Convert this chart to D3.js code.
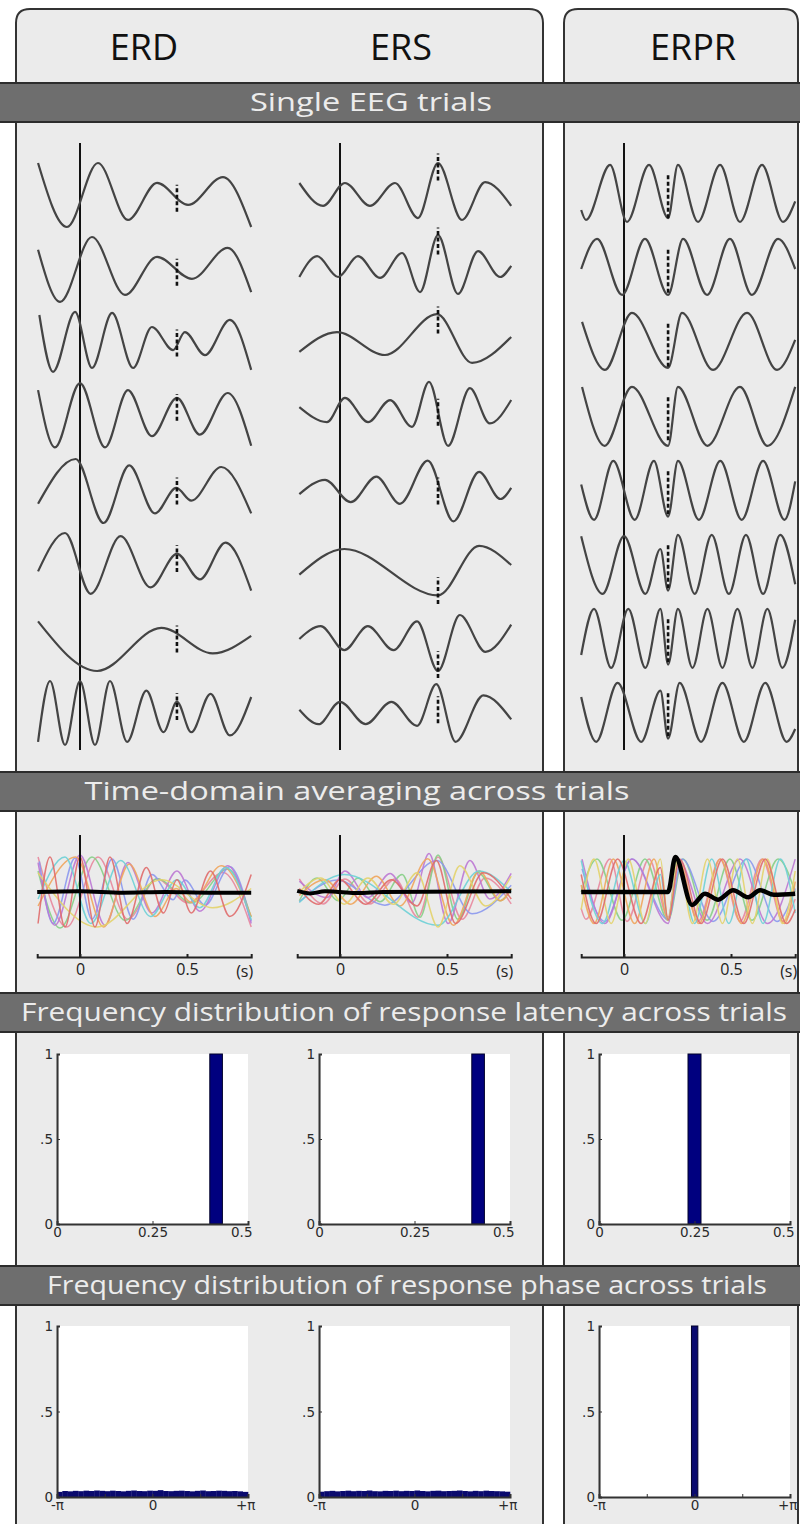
<!DOCTYPE html>
<html lang="en">
<head>
<meta charset="UTF-8" />
<title>ERD / ERS / ERPR</title>
<script src="https://d3js.org/d3.v7.min.js"></script>
<style>
  body { margin: 0; background: #fff; }
  svg { display: block; }
</style>
</head>
<body>
<div id="chart"></div>
<script>
// ---- data ----
const columns = ["ERD", "ERS", "ERPR"];
const sectionTitles = [
  "Single EEG trials",
  "Time-domain averaging across trials",
  "Frequency distribution of response latency across trials",
  "Frequency distribution of response phase across trials",
];

// single trials: [time (s), amplitude] at the peaks / troughs of each trace
const erdTrials = [
  [[-0.196,1.0],[-0.061,-1.0],[0.084,1.0],[0.224,-0.78],[0.36,0.38],[0.505,-0.31],[0.668,0.56],[0.8,-1.0]],
  [[-0.196,0.6],[-0.093,-1.03],[0.056,1.0],[0.21,-0.81],[0.36,0.38],[0.523,-0.31],[0.69,0.66],[0.8,-0.72]],
  [[-0.19,0.875],[-0.126,-0.9],[-0.023,0.97],[0.056,-0.78],[0.15,0.94],[0.248,-0.78],[0.336,0.5],[0.435,-0.22],[0.49,0.34],[0.584,-0.38],[0.7,0.72],[0.8,-0.84]],
  [[-0.196,0.84],[-0.117,-0.95],[0.0,1.06],[0.117,-0.95],[0.224,0.84],[0.336,-0.6],[0.453,0.6],[0.56,-0.55],[0.69,0.75],[0.8,-0.9]],
  [[-0.196,-0.4],[-0.02,1.0],[0.11,-1.0],[0.23,0.8],[0.35,-0.7],[0.45,0.1],[0.52,-0.3],[0.66,0.75],[0.8,-0.7]],
  [[-0.196,-0.2],[-0.07,1.0],[0.05,-0.9],[0.19,0.9],[0.33,-0.7],[0.453,0.35],[0.56,-0.45],[0.68,0.7],[0.8,-0.8]],
  [[-0.196,0.55],[0.08,-1.0],[0.38,0.35],[0.62,-0.45],[0.8,0.1]],
  [[-0.196,-0.9],[-0.14,1.0],[-0.07,-1.0],[0.0,1.0],[0.07,-1.0],[0.14,1.0],[0.22,-0.9],[0.31,0.7],[0.39,-0.6],[0.453,0.35],[0.52,-0.6],[0.61,0.6],[0.7,-0.7],[0.8,0.5]],
];
const ersTrials = [
  [[-0.19,0.375],[-0.079,-0.34],[0.023,0.375],[0.14,-0.34],[0.257,0.375],[0.364,-0.72],[0.458,1.0],[0.57,-0.78],[0.678,0.4],[0.8,-0.34]],
  [[-0.19,-0.25],[-0.107,0.4],[-0.009,-0.25],[0.084,0.4],[0.187,-0.28],[0.29,0.5],[0.374,-0.72],[0.458,1.06],[0.551,-0.78],[0.645,0.56],[0.748,-0.25],[0.8,0.1]],
  [[-0.19,-0.28],[-0.014,0.34],[0.21,-0.375],[0.453,0.9],[0.617,-0.62],[0.8,0.19]],
  [[-0.19,0.31],[-0.061,-0.16],[0.023,0.6],[0.131,-0.16],[0.234,0.53],[0.336,-0.31],[0.416,1.1],[0.505,-0.9],[0.607,0.9],[0.7,-0.2],[0.8,0.53]],
  [[-0.19,-0.1],[-0.07,0.35],[0.05,-0.35],[0.17,0.45],[0.28,-0.4],[0.41,0.95],[0.53,-0.95],[0.65,0.6],[0.75,-0.25],[0.8,0.1]],
  [[-0.19,-0.3],[0.02,0.5],[0.458,-0.95],[0.65,0.6],[0.8,0.0]],
  [[-0.19,0.0],[-0.09,0.4],[0.02,-0.35],[0.13,0.4],[0.25,-0.35],[0.36,0.55],[0.458,-1.0],[0.56,0.75],[0.68,-0.4],[0.8,0.45]],
  [[-0.19,0.1],[-0.1,-0.35],[0.0,0.35],[0.12,-0.35],[0.24,0.35],[0.36,-0.4],[0.45,0.9],[0.54,-0.9],[0.67,0.55],[0.8,-0.2]],
];
const erprTrials = [
  [[-0.2,-0.47],[-0.178,-0.78],[-0.065,0.94],[0.014,-0.84],[0.117,0.94],[0.206,-0.72],[0.252,0.94],[0.346,-0.84],[0.449,0.94],[0.542,-0.84],[0.645,0.94],[0.743,-0.84],[0.8,-0.2]],
  [[-0.2,0.0],[-0.126,0.94],[-0.009,-0.81],[0.098,0.94],[0.206,-0.81],[0.276,0.94],[0.388,-0.81],[0.495,0.94],[0.598,-0.81],[0.72,0.94],[0.8,0.0]],
  [[-0.196,0.66],[-0.089,-0.84],[0.037,0.94],[0.206,-0.78],[0.271,0.94],[0.416,-0.84],[0.575,0.94],[0.715,-0.84],[0.8,0.1]],
  [[-0.196,0.94],[-0.09,-0.9],[0.037,0.94],[0.206,-0.9],[0.252,0.94],[0.39,-0.9],[0.542,0.94],[0.67,-0.9],[0.8,0.94]],
  [[-0.2,0.2],[-0.14,-0.9],[-0.05,0.94],[0.05,-0.9],[0.14,0.94],[0.206,-0.8],[0.252,0.94],[0.35,-0.9],[0.45,0.94],[0.55,-0.9],[0.65,0.94],[0.75,-0.9],[0.8,0.3]],
  [[-0.2,0.9],[-0.1,-0.9],[0.0,0.9],[0.1,-0.9],[0.17,0.5],[0.206,-0.8],[0.252,0.94],[0.33,-0.9],[0.41,0.94],[0.49,-0.9],[0.57,0.94],[0.65,-0.9],[0.73,0.94],[0.8,-0.6]],
  [[-0.2,-0.5],[-0.14,0.94],[-0.06,-0.9],[0.02,0.94],[0.1,-0.9],[0.17,0.94],[0.206,-0.8],[0.252,0.94],[0.32,-0.9],[0.39,0.94],[0.46,-0.9],[0.53,0.94],[0.6,-0.9],[0.67,0.94],[0.74,-0.9],[0.8,0.6]],
  [[-0.2,0.5],[-0.13,-0.9],[-0.03,0.94],[0.08,-0.9],[0.17,0.7],[0.206,-0.8],[0.26,0.94],[0.36,-0.9],[0.46,0.94],[0.56,-0.9],[0.66,0.94],[0.76,-0.9],[0.8,-0.5]],
];

// response marker (dashed) time and its centre amplitude per trial
const markerTime = [0.453, 0.458, 0.206];
const erdMarkers = [-0.1, -0.1, 0.0, 0.3, 0.0, 0.2, 0.0, 0.2];
const ersMarkers = [0.875, 0.875, 0.72, 0.15, 0.0, -0.8, -0.8, 0.1];
const erprMarkers = [-0.05, -0.06, -0.06, -0.05, -0.05, -0.05, -0.05, -0.05];

// across-trial average (thick black line)
const erdMean = [[-0.2,0.0],[0.0,0.02],[0.2,-0.02],[0.4,0.0],[0.6,-0.02],[0.8,-0.02]];
const ersMean = [[-0.2,0.03],[-0.14,-0.04],[-0.07,0.02],[0.0,0.0],[0.08,-0.03],[0.2,0.0],[0.8,0.02]];
const erpMean = [[-0.2,0.0],[0.206,0.0],[0.24,1.0],[0.318,-0.37],[0.378,-0.05],[0.44,-0.22],[0.51,0.05],[0.58,-0.15],[0.636,0.05],[0.7,-0.08],[0.8,-0.05]];

// latency histograms: [bin start, bin end, relative frequency]
const erdLatency = [[0.4, 0.433, 1]];
const ersLatency = [[0.4, 0.433, 1]];
const erprLatency = [[0.233, 0.267, 1]];

// phase histograms: 36 bins over [-pi, pi] for ERD / ERS, one bin for ERPR
const erdPhase = [0.030,0.035,0.033,0.036,0.034,0.037,0.035,0.038,0.036,0.034,0.037,0.035,0.033,0.036,0.038,0.035,0.034,0.037,
                  0.036,0.040,0.035,0.034,0.036,0.037,0.035,0.033,0.036,0.038,0.034,0.035,0.037,0.036,0.034,0.035,0.033,0.030];
const ersPhase = [0.031,0.034,0.036,0.033,0.035,0.037,0.034,0.036,0.035,0.038,0.034,0.033,0.036,0.035,0.037,0.034,0.036,0.035,
                  0.038,0.035,0.033,0.036,0.037,0.034,0.035,0.036,0.038,0.035,0.033,0.036,0.034,0.037,0.035,0.034,0.033,0.031];
const erprPhase = [[-0.1, 0.1, 1]];

const latencyTicks = [0, 0.25, 0.5];
const latencyTickLabels = ["0", "0.25", "0.5"];
const phaseTicks = [-Math.PI, 0, Math.PI];
const phaseTickLabels = ["-\u03c0", "0", "+\u03c0"];
const freqTicks = [0, 0.5, 1];
const freqTickLabels = ["0", ".5", "1"];
const timeTicks = [0, 0.5];
const timeTickLabels = ["0", "0.5"];

const traceColors = ["#e8879d", "#86cf86", "#8b98ee", "#bd78d4", "#f0a55c", "#6dd0d6", "#e3d36c", "#e06b6b"];

// ---- layout ----
const W = 800, H = 1524;
const uiFont = "'Open Sans', Lato, sans-serif";
const tickFont = "'DejaVu Sans', Verdana, sans-serif";
const onsetX = [80, 340, 624];
const histRange = [[57, 248], [319, 510], [599, 790]];
const headX = [144, 401, 693];
const bars = [
  { y: 83, cx: 371, w: 242 },
  { y: 772, cx: 357, w: 545 },
  { y: 993, cx: 404, w: 766 },
  { y: 1266, cx: 407, w: 720 },
];

const trials = [erdTrials, ersTrials, erprTrials];
const markers = [erdMarkers, ersMarkers, erprMarkers];
const markerHalf = [0.42, 0.42, 0.68];
const means = [erdMean, ersMean, erpMean];
const latencies = [erdLatency, ersLatency, erprLatency];

const svg = d3.select("#chart").append("svg").attr("width", W).attr("height", H);

// rounded column boxes
function boxPath(x0, x1, y0, y1, r) {
  return `M${x0},${y1}V${y0 + r}Q${x0},${y0} ${x0 + r},${y0}H${x1 - r}Q${x1},${y0} ${x1},${y0 + r}V${y1}Z`;
}
svg.append("path").attr("d", boxPath(16, 543, 9, H + 10, 14))
  .attr("fill", "#ebebeb").attr("stroke", "#333").attr("stroke-width", 2);
svg.append("path").attr("d", boxPath(564, 798, 9, H + 10, 14))
  .attr("fill", "#ebebeb").attr("stroke", "#333").attr("stroke-width", 2);

// column headers
svg.selectAll("text.head").data(columns).join("text")
  .attr("class", "head")
  .attr("x", (d, i) => headX[i]).attr("y", 60)
  .attr("text-anchor", "middle")
  .attr("font-family", uiFont).attr("font-size", 36)
  .attr("fill", "#111")
  .text(d => d);

const xScales = onsetX.map(x0 => d3.scaleLinear().domain([-0.2, 0.8]).range([x0 - 0.2 * 214, x0 + 0.8 * 214]));
const rowY = d3.scalePoint().domain(d3.range(8)).range([195, 713]);
const line = (xs, ys) => d3.line().x(d => xs(d[0])).y(d => ys(d[1])).curve(d3.curveMonotoneX);

// ---- single trials ----
columns.forEach((c, ci) => {
  const xs = xScales[ci];
  const g = svg.append("g");
  g.append("line")
    .attr("x1", xs(0)).attr("x2", xs(0)).attr("y1", 143).attr("y2", 750)
    .attr("stroke", "#111").attr("stroke-width", 2);
  trials[ci].forEach((tr, i) => {
    const ys = d3.scaleLinear().domain([-1, 1]).range([rowY(i) + 32, rowY(i) - 32]);
    g.append("path").datum(tr)
      .attr("d", line(xs, ys))
      .attr("fill", "none").attr("stroke", "#444").attr("stroke-width", 2.2);
    const m = markers[ci][i];
    g.append("line")
      .attr("x1", xs(markerTime[ci])).attr("x2", xs(markerTime[ci]))
      .attr("y1", ys(m - markerHalf[ci])).attr("y2", ys(m + markerHalf[ci]))
      .attr("stroke", "#111").attr("stroke-width", 2.6).attr("stroke-dasharray", "4,2.5");
  });
});

// ---- time-domain averaging ----
const avgY = d3.scaleLinear().domain([-1, 1]).range([892 + 35, 892 - 35]);
columns.forEach((c, ci) => {
  const xs = xScales[ci];
  const g = svg.append("g");
  trials[ci].forEach((tr, i) => {
    g.append("path").datum(tr)
      .attr("d", line(xs, avgY))
      .attr("fill", "none").attr("stroke", traceColors[i])
      .attr("stroke-width", 1.5).attr("stroke-opacity", 0.9);
  });
  g.append("line")
    .attr("x1", xs(0)).attr("x2", xs(0)).attr("y1", 835).attr("y2", 957)
    .attr("stroke", "#111").attr("stroke-width", 2);
  g.append("path").datum(means[ci])
    .attr("d", line(xs, avgY))
    .attr("fill", "none").attr("stroke", "#000").attr("stroke-width", ci === 2 ? 4.5 : 4)
    .attr("stroke-linejoin", "round");
  const ax = g.append("g").attr("transform", "translate(0,957)")
    .call(d3.axisBottom(xs).tickValues(timeTicks).tickSize(-3).tickPadding(7)
      .tickFormat((d, i) => timeTickLabels[i]));
  ax.select(".domain").attr("stroke", "#222").attr("stroke-width", 2);
  ax.selectAll(".tick line").attr("stroke", "#222").attr("stroke-width", 2);
  ax.selectAll("text").attr("font-family", uiFont).attr("font-size", 16).attr("fill", "#222");
  g.append("text")
    .attr("x", xs(0.8) + 2).attr("y", 977)
    .attr("text-anchor", "end")
    .attr("font-family", uiFont).attr("font-size", 16).attr("fill", "#222")
    .text("(s)");
});

// ---- histograms ----
function histogram(ci, top, bottom, domain, ticks, labels, minorTicks, drawBars, lastShift) {
  const [x0, x1] = histRange[ci];
  const xs = d3.scaleLinear().domain(domain).range([x0, x1]);
  const ys = d3.scaleLinear().domain([0, 1]).range([bottom, top]);
  const g = svg.append("g");
  g.append("rect").attr("x", x0 + 2).attr("y", top).attr("width", x1 - x0 - 2).attr("height", bottom - top)
    .attr("fill", "#fff");
  drawBars(g, xs, ys);
  const ya = g.append("g").attr("transform", `translate(${x0},0)`)
    .call(d3.axisLeft(ys).tickValues(freqTicks).tickSize(-3).tickPadding(4)
      .tickFormat((d, i) => freqTickLabels[i]));
  const xa = g.append("g").attr("transform", `translate(0,${bottom})`)
    .call(d3.axisBottom(xs).tickValues(ticks).tickSize(-3).tickPadding(3)
      .tickFormat((d, i) => labels[i]));
  if (minorTicks.length) {
    g.append("g").attr("transform", `translate(0,${bottom})`)
      .call(d3.axisBottom(xs).tickValues(minorTicks).tickSize(-3).tickFormat(""))
      .call(s => s.select(".domain").remove())
      .selectAll(".tick line").attr("stroke", "#333");
  }
  [ya, xa].forEach(a => {
    a.select(".domain").attr("stroke", "#333").attr("stroke-width", 2);
    a.selectAll(".tick line").attr("stroke", "#333");
    a.selectAll("text").attr("font-family", tickFont).attr("font-size", 13.5).attr("fill", "#2a2a2a");
  });
  ya.selectAll("text").attr("dy", "0.35em");
  // last x label sits flush with the end of the axis
  xa.selectAll(".tick:last-of-type text").attr("text-anchor", "end").attr("dx", lastShift);
}

const barDraw = (bins) => (g, xs, ys) => {
  g.selectAll("rect.bin").data(bins).join("rect")
    .attr("class", "bin")
    .attr("x", d => xs(d[0])).attr("width", d => xs(d[1]) - xs(d[0]))
    .attr("y", d => ys(d[2])).attr("height", d => ys(0) - ys(d[2]))
    .attr("fill", "#00007f").attr("stroke", "#00002a").attr("stroke-width", 1);
};
const phaseBinsFrom = (vals) => {
  const w = 2 * Math.PI / vals.length;
  return vals.map((v, i) => [-Math.PI + i * w, -Math.PI + (i + 1) * w, v]);
};
const phases = [phaseBinsFrom(erdPhase), phaseBinsFrom(ersPhase), erprPhase];

columns.forEach((c, ci) => {
  histogram(ci, 1054, 1224, [0, 0.5], latencyTicks, latencyTickLabels, [], barDraw(latencies[ci]), 4);
  histogram(ci, 1326, 1497, [-Math.PI, Math.PI], phaseTicks, phaseTickLabels,
    [-Math.PI / 2, Math.PI / 2], (g, xs, ys) => {
      g.selectAll("rect.bin").data(phases[ci]).join("rect")
        .attr("class", "bin")
        .attr("x", d => xs(d[0])).attr("width", d => xs(d[1]) - xs(d[0]) + 0.3)
        .attr("y", d => ys(d[2])).attr("height", d => ys(0) - ys(d[2]))
        .attr("fill", "#0a0a6e").attr("stroke", ci === 2 ? "#00002a" : "none");
    }, 7);
});

// ---- section bars ----
bars.forEach((b, i) => {
  svg.append("rect").attr("x", -2).attr("y", b.y).attr("width", W + 4).attr("height", 39)
    .attr("fill", "#6e6e6e").attr("stroke", "#2c2c2c").attr("stroke-width", 2);
  svg.append("text")
    .attr("x", b.cx).attr("y", b.y + 28)
    .attr("text-anchor", "middle")
    .attr("font-family", uiFont).attr("font-size", 25)
    .attr("fill", "#ececec")
    .attr("textLength", b.w).attr("lengthAdjust", "spacingAndGlyphs")
    .text(sectionTitles[i]);
});
</script>
</body>
</html>
